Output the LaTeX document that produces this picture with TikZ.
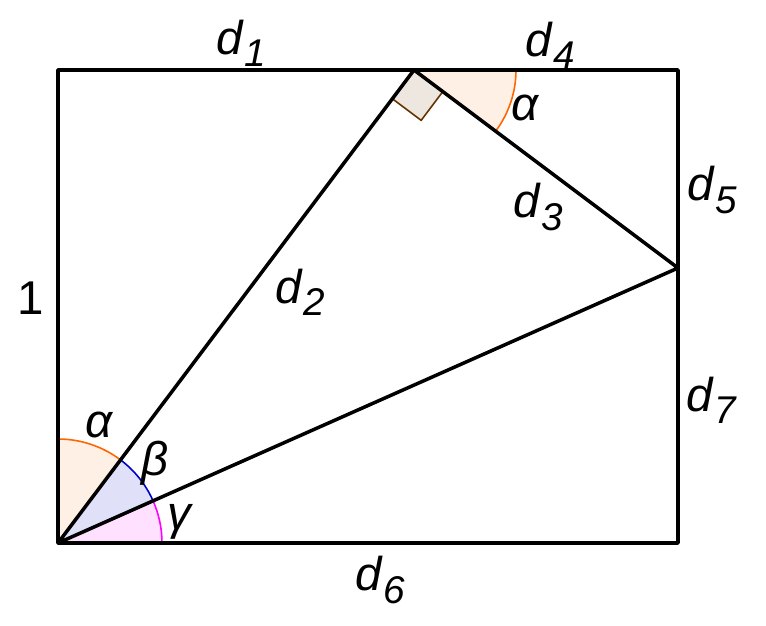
\documentclass[tikz,border=0pt]{standalone}
\usepackage{fontspec}
\setmainfont{Liberation Sans}
\usetikzlibrary{calc}
\newcommand{\dlab}[1]{\textit{d}\raisebox{-7pt}{\fontsize{22}{24}\selectfont\textit{#1}}}
\definecolor{angorange}{RGB}{255,102,0}
\definecolor{angblue}{RGB}{0,0,204}
\definecolor{angmag}{RGB}{255,0,255}
\definecolor{rabrown}{RGB}{102,51,0}
\tikzset{
  side/.style={line width=2pt, line cap=round, line join=round},
  angarc/.style={line width=0.9pt},
  lab/.style={font=\fontsize{27}{30}\selectfont, inner sep=0pt}
}
\begin{document}
\begin{tikzpicture}[x=0.02cm,y=0.02cm]
        \useasboundingbox (0,0) rectangle (766,625);
        \coordinate (O) at (58,82);
        \coordinate (B) at (678,82);
        \coordinate (C) at (678,555);
        \coordinate (D) at (58,555);
        \coordinate (P) at (414,555);
        \coordinate (Q) at (678,357);
        % angle sectors
        \fill[angorange!10](O)--++(53.03:104) arc[start angle=53.03,end angle=90,radius=104]--cycle;
        \fill[angblue!12](O)--++(23.92:104) arc[start angle=23.92,end angle=53.03,radius=104]--cycle;
        \fill[angmag!12](O)--++(0:104) arc[start angle=0,end angle=23.92,radius=104]--cycle;
        \fill[angorange!10](P)--++(0:102) arc[start angle=0,end angle=-36.87,radius=102]--cycle;
        \draw[angarc,angorange]($(O)+(53.03:104)$) arc[start angle=53.03,end angle=90,radius=104];
        \draw[angarc,angblue]($(O)+(23.92:104)$) arc[start angle=23.92,end angle=53.03,radius=104];
        \draw[angarc,angmag]($(O)+(0:104)$) arc[start angle=0,end angle=23.92,radius=104];
        \draw[angarc,angorange]($(P)+(0:102)$) arc[start angle=0,end angle=-36.87,radius=102];
        \draw[angarc,rabrown,fill=rabrown!12](P)--++(233.03:36)--++(-36.87:36)--++(53.03:36)--cycle;
        % rectangle and triangle
        \draw[side](O)--(B)--(C)--(D)--cycle;
        \draw[side](O)--(P)--(Q)--cycle;
        % labels
        \node[lab] (l1) at (241,582) {\dlab{1}};
        \node[lab] (l4) at (550,580) {\dlab{4}};
        \node[lab] (l5) at (712,435) {\dlab{5}};
        \node[lab] (l3) at (538,418) {\dlab{3}};
        \node[lab] (l2) at (300,333) {\dlab{2}};
        \node[lab] (l7) at (712,225) {\dlab{7}};
        \node[lab] (l6) at (380,45) {\dlab{6}};
        \node[lab] (one) at (31,327) {1};
        \node[lab] (aP) at (526,517) {\textit{α}};
        \node[lab] (aO) at (100,200) {\textit{α}};
        \node[lab] (bO) at (155,162) {\textit{β}};
        \node[lab] (gO) at (180,103) {\textit{γ}};
\end{tikzpicture}
\end{document}
